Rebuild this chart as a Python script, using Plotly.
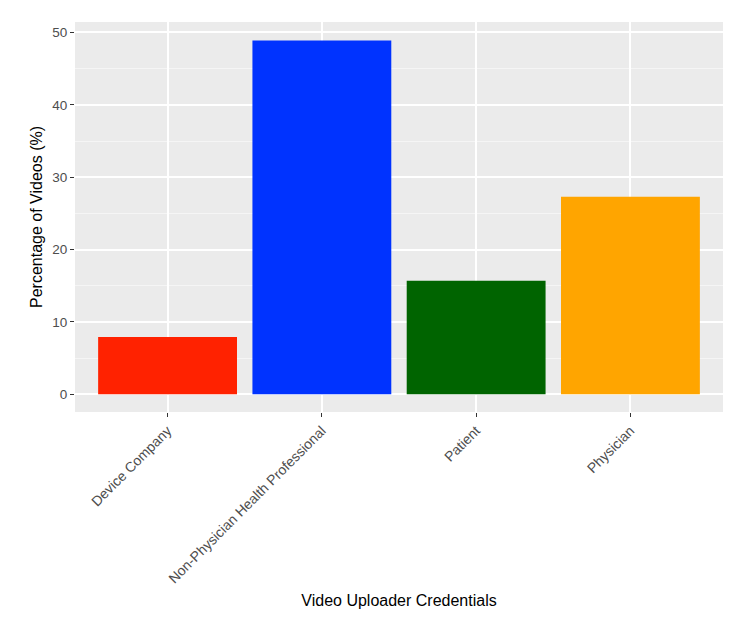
import plotly.graph_objects as go


# data
credentials = ["Device Company", "Non-Physician Health Professional", "Patient", "Physician"]
percent_videos = [7.9, 48.9, 15.7, 27.3]
bar_colors = ["#FF2200", "#0033FF", "#006400", "#FFA500"]
y_ticks = [0, 10, 20, 30, 40, 50]


fig = go.Figure(
    go.Bar(
        x=credentials,
        y=percent_videos,
        marker=dict(color=bar_colors, line=dict(width=0)),
        width=0.9,
        showlegend=False,
    )
)

# the page body adds an 8px offset, so margins are shifted by that much
fig.update_layout(
    width=750,
    height=626,
    paper_bgcolor="white",
    plot_bgcolor="#EBEBEB",
    font=dict(family="Liberation Sans, Arial", size=13, color="#4D4D4D"),
    margin=dict(l=67, r=35, t=14, b=222),
)

fig.update_xaxes(
    type="category",
    range=[-0.6, 3.6],
    tickangle=-45,
    showgrid=True,
    gridcolor="white",
    gridwidth=1.5,
    ticks="outside",
    ticklen=4,
    tickcolor="#333333",
    tickfont=dict(size=14, color="#4D4D4D"),
    showline=False,
    zeroline=False,
    title=dict(text="Video Uploader Credentials", font=dict(size=16, color="black"), standoff=9),
)

fig.update_yaxes(
    range=[-2.45, 51.45],
    tickvals=y_ticks,
    showgrid=True,
    gridcolor="white",
    gridwidth=1.5,
    minor=dict(dtick=5, tick0=0, showgrid=True, gridcolor="#F5F5F5", gridwidth=0.8, ticks=""),
    ticks="outside",
    ticklen=4,
    tickcolor="#333333",
    tickfont=dict(size=13.5, color="#4D4D4D"),
    zeroline=False,
    showline=False,
    title=dict(text="Percentage of Videos (%)", font=dict(size=16, color="black"), standoff=5),
)

fig.write_html("out.html")
